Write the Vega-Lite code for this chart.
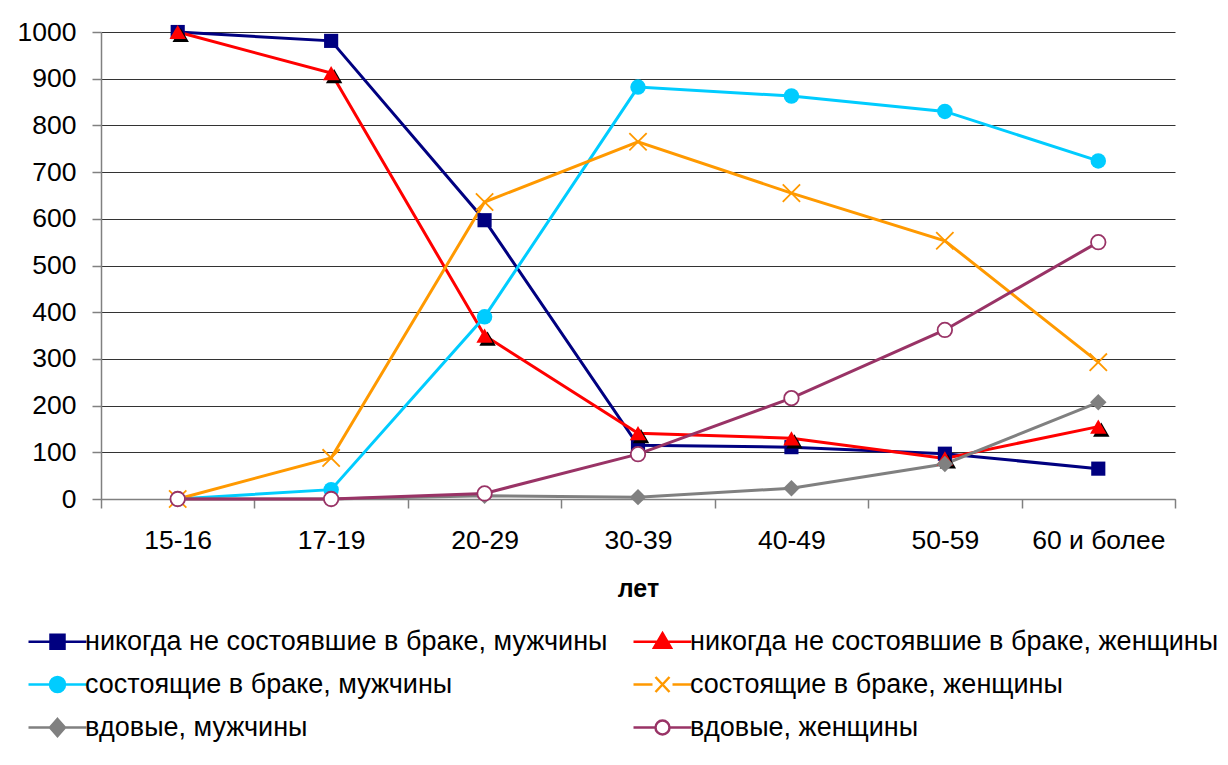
{
  "$schema": "https://vega.github.io/schema/vega-lite/v6.json",
  "autosize": {"type": "none"},
  "width": 1074,
  "height": 467,
  "padding": {"left": 101, "top": 32, "right": 53, "bottom": 266},
  "background": "white",
  "config": {
    "view": {"stroke": null},
    "font": "Liberation Sans",
    "legend": {
      "symbolOpacity": 1,
      "symbolStrokeWidth": 2.5
    }
  },
  "datasets": {
    "main": [
      {"age": "15-16", "series": "никогда не состоявшие в браке, мужчины", "value": 1000},
      {"age": "17-19", "series": "никогда не состоявшие в браке, мужчины", "value": 981},
      {"age": "20-29", "series": "никогда не состоявшие в браке, мужчины", "value": 597},
      {"age": "30-39", "series": "никогда не состоявшие в браке, мужчины", "value": 115},
      {"age": "40-49", "series": "никогда не состоявшие в браке, мужчины", "value": 111},
      {"age": "50-59", "series": "никогда не состоявшие в браке, мужчины", "value": 97},
      {"age": "60 и более", "series": "никогда не состоявшие в браке, мужчины", "value": 65},
      {"age": "15-16", "series": "никогда не состоявшие в браке, женщины", "value": 1000},
      {"age": "17-19", "series": "никогда не состоявшие в браке, женщины", "value": 912},
      {"age": "20-29", "series": "никогда не состоявшие в браке, женщины", "value": 350},
      {"age": "30-39", "series": "никогда не состоявшие в браке, женщины", "value": 141},
      {"age": "40-49", "series": "никогда не состоявшие в браке, женщины", "value": 130},
      {"age": "50-59", "series": "никогда не состоявшие в браке, женщины", "value": 87},
      {"age": "60 и более", "series": "никогда не состоявшие в браке, женщины", "value": 155},
      {"age": "15-16", "series": "состоящие в браке, мужчины", "value": 0},
      {"age": "17-19", "series": "состоящие в браке, мужчины", "value": 20},
      {"age": "20-29", "series": "состоящие в браке, мужчины", "value": 390},
      {"age": "30-39", "series": "состоящие в браке, мужчины", "value": 882},
      {"age": "40-49", "series": "состоящие в браке, мужчины", "value": 863},
      {"age": "50-59", "series": "состоящие в браке, мужчины", "value": 830},
      {"age": "60 и более", "series": "состоящие в браке, мужчины", "value": 724},
      {"age": "15-16", "series": "состоящие в браке, женщины", "value": 0},
      {"age": "17-19", "series": "состоящие в браке, женщины", "value": 88},
      {"age": "20-29", "series": "состоящие в браке, женщины", "value": 636},
      {"age": "30-39", "series": "состоящие в браке, женщины", "value": 765},
      {"age": "40-49", "series": "состоящие в браке, женщины", "value": 655},
      {"age": "50-59", "series": "состоящие в браке, женщины", "value": 553},
      {"age": "60 и более", "series": "состоящие в браке, женщины", "value": 293},
      {"age": "15-16", "series": "вдовые, мужчины", "value": 0},
      {"age": "17-19", "series": "вдовые, мужчины", "value": 0},
      {"age": "20-29", "series": "вдовые, мужчины", "value": 7},
      {"age": "30-39", "series": "вдовые, мужчины", "value": 4},
      {"age": "40-49", "series": "вдовые, мужчины", "value": 23},
      {"age": "50-59", "series": "вдовые, мужчины", "value": 75},
      {"age": "60 и более", "series": "вдовые, мужчины", "value": 207},
      {"age": "15-16", "series": "вдовые, женщины", "value": 0},
      {"age": "17-19", "series": "вдовые, женщины", "value": 0},
      {"age": "20-29", "series": "вдовые, женщины", "value": 12},
      {"age": "30-39", "series": "вдовые, женщины", "value": 96},
      {"age": "40-49", "series": "вдовые, женщины", "value": 216},
      {"age": "50-59", "series": "вдовые, женщины", "value": 362},
      {"age": "60 и более", "series": "вдовые, женщины", "value": 550}
    ]
  },
  "data": {"name": "main"},
  "encoding": {
    "x": {
      "field": "age",
      "type": "nominal",
      "sort": null,
      "scale": {"paddingInner": 0, "paddingOuter": 0},
      "axis": {
        "title": "лет",
        "titleFontSize": 25,
        "titleFontWeight": "bold",
        "titleColor": "black",
        "titlePadding": 23,
        "labelAngle": 0,
        "labelFontSize": 26.5,
        "labelColor": "black",
        "labelPadding": 19,
        "tickBand": "extent",
        "tickSize": 9,
        "tickColor": "#808080",
        "tickWidth": 1.5,
        "domainColor": "#808080",
        "domainWidth": 1.5,
        "grid": false
      }
    },
    "y": {
      "field": "value",
      "type": "quantitative",
      "scale": {"domain": [0, 1000], "nice": false},
      "axis": {
        "title": null,
        "format": "d",
        "values": [0, 100, 200, 300, 400, 500, 600, 700, 800, 900, 1000],
        "labelFontSize": 26.5,
        "labelColor": "black",
        "labelPadding": 16,
        "tickSize": 9,
        "tickColor": "#808080",
        "tickWidth": 1.5,
        "domainColor": "#808080",
        "domainWidth": 1.5,
        "grid": true,
        "gridColor": "#333333",
        "gridWidth": 1
      }
    }
  },
  "layer": [
    {
      "mark": {"type": "line", "strokeWidth": 3},
      "encoding": {
        "color": {
          "field": "series",
          "type": "nominal",
          "sort": null,
          "scale": {
            "domain": ["никогда не состоявшие в браке, мужчины", "никогда не состоявшие в браке, женщины", "состоящие в браке, мужчины", "состоящие в браке, женщины", "вдовые, мужчины", "вдовые, женщины"],
            "range": ["#000080", "#FF0000", "#00CCFF", "#FF9900", "#808080", "#993366"]
          },
          "legend": {
            "title": null,
            "orient": "none",
            "legendX": -57,
            "legendY": 596,
            "direction": "horizontal",
            "columns": 2,
            "columnPadding": 20,
            "rowPadding": 15,
            "symbolSize": 400,
            "symbolStrokeWidth": 2.5,
            "symbolOpacity": 1,
            "labelOffset": 14,
            "labelFontSize": 27,
            "labelColor": "black",
            "labelLimit": 800
          }
        }
      }
    },
    {
      "transform": [{"filter": "datum.value < 0"}],
      "mark": {"type": "point", "filled": false, "opacity": 1},
      "encoding": {
        "shape": {
          "field": "series",
          "type": "nominal",
          "sort": null,
          "scale": {
            "domain": ["никогда не состоявшие в браке, мужчины", "никогда не состоявшие в браке, женщины", "состоящие в браке, мужчины", "состоящие в браке, женщины", "вдовые, мужчины", "вдовые, женщины"],
            "range": [
              "M-2.9,0L2.9,0M-0.7,-0.7L0.7,-0.7L0.7,0.7L-0.7,0.7Z",
              "M-2.9,0L2.9,0M0,-0.85L0.85,0.6L-0.85,0.6Z",
              "M-2.9,0L2.9,0M-0.75,0C-0.75,-0.414 -0.414,-0.75 0,-0.75C0.414,-0.75 0.75,-0.414 0.75,0C0.75,0.414 0.414,0.75 0,0.75C-0.414,0.75 -0.75,0.414 -0.75,0Z",
              "M-2.9,0L-1,0M1,0L2.9,0M-0.7,-0.75L0.7,0.75M-0.7,0.75L0.7,-0.75",
              "M-2.9,0L2.9,0M0,-0.85L0.75,0L0,0.85L-0.75,0Z",
              "M-2.9,0L-0.7,0M0.7,0L2.9,0M-0.7,0C-0.7,-0.387 -0.387,-0.7 0,-0.7C0.387,-0.7 0.7,-0.387 0.7,0C0.7,0.387 0.387,0.7 0,0.7C-0.387,0.7 -0.7,0.387 -0.7,0Z"
            ]
          },
          "legend": null
        },
        "fill": {
          "field": "series",
          "type": "nominal",
          "sort": null,
          "scale": {
            "domain": ["никогда не состоявшие в браке, мужчины", "никогда не состоявшие в браке, женщины", "состоящие в браке, мужчины", "состоящие в браке, женщины", "вдовые, мужчины", "вдовые, женщины"],
            "range": ["#000080", "#FF0000", "#00CCFF", "transparent", "#808080", "#ffffff"]
          },
          "legend": null
        },
        "stroke": {
          "field": "series",
          "type": "nominal",
          "sort": null,
          "scale": {
            "domain": ["никогда не состоявшие в браке, мужчины", "никогда не состоявшие в браке, женщины", "состоящие в браке, мужчины", "состоящие в браке, женщины", "вдовые, мужчины", "вдовые, женщины"],
            "range": ["#000080", "#FF0000", "#00CCFF", "#FF9900", "#808080", "#993366"]
          },
          "legend": null
        }
      }
    },
    {
      "transform": [{"filter": "datum.series === 'никогда не состоявшие в браке, мужчины'"}],
      "mark": {"type": "point", "shape": "square", "filled": true, "color": "#000080", "size": 200, "opacity": 1}
    },
    {
      "transform": [{"filter": "datum.series === 'никогда не состоявшие в браке, женщины'"}],
      "mark": {"type": "point", "shape": "triangle-up", "filled": true, "color": "black", "size": 270, "opacity": 1, "xOffset": 3, "yOffset": 3}
    },
    {
      "transform": [{"filter": "datum.series === 'никогда не состоявшие в браке, женщины'"}],
      "mark": {"type": "point", "shape": "triangle-up", "filled": true, "color": "#FF0000", "size": 270, "opacity": 1}
    },
    {
      "transform": [{"filter": "datum.series === 'состоящие в браке, мужчины'"}],
      "mark": {"type": "point", "shape": "circle", "filled": true, "color": "#00CCFF", "size": 240, "opacity": 1}
    },
    {
      "transform": [{"filter": "datum.series === 'состоящие в браке, женщины'"}],
      "mark": {"type": "point", "shape": "M-1,-1L1,1M-1,1L1,-1", "filled": false, "color": "#FF9900", "size": 300, "strokeWidth": 1.8, "opacity": 1}
    },
    {
      "transform": [{"filter": "datum.series === 'вдовые, мужчины'"}],
      "mark": {"type": "point", "shape": "diamond", "filled": true, "color": "#808080", "size": 270, "opacity": 1}
    },
    {
      "transform": [{"filter": "datum.series === 'вдовые, женщины'"}],
      "mark": {"type": "point", "shape": "circle", "filled": false, "fill": "#ffffff", "stroke": "#993366", "size": 210, "strokeWidth": 1.8, "opacity": 1}
    }
  ]
}
